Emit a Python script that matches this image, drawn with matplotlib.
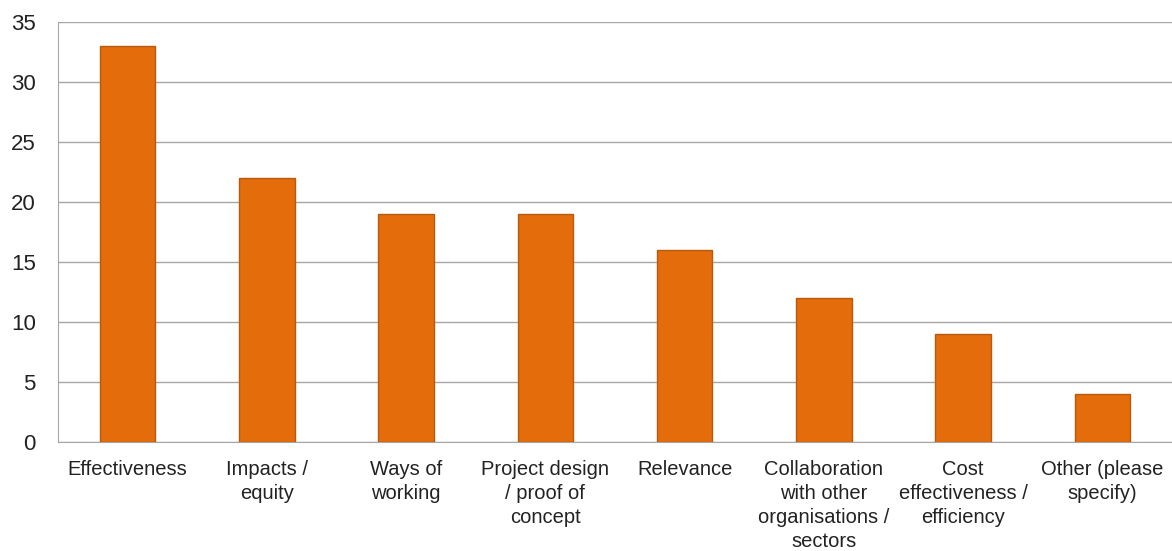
import numpy as np
import matplotlib.pyplot as plt

plt.rcParams['font.family'] = ['Liberation Sans', 'DejaVu Sans']

categories = ["Effectiveness", "Impacts /\nequity", "Ways of\nworking",
              "Project design\n/ proof of\nconcept", "Relevance",
              "Collaboration\nwith other\norganisations /\nsectors",
              "Cost\neffectiveness /\nefficiency", "Other (please\nspecify)"]
values = [33, 22, 19, 19, 16, 12, 9, 4]

fig = plt.figure(figsize=(11.72, 5.51), dpi=100)
ax = fig.add_axes([0.0495, 0.198, 0.9505, 0.762])

x = np.arange(len(categories))
ax.bar(x, values, width=0.4, color='#E46C0A', edgecolor='#B65A10', linewidth=1, zorder=3)

ax.set_xlim(-0.5, len(categories) - 0.5)
ax.set_ylim(0, 35)
ax.set_yticks(range(0, 36, 5))
ax.yaxis.grid(True, color='#A6A6A6', linewidth=1, zorder=0)
ax.set_axisbelow(True)

ax.set_xticks(x)
ax.set_xticklabels(categories, fontsize=14.5, linespacing=1.34, va='top', color='#222222')
ax.tick_params(axis='y', labelsize=16, length=0, pad=16, labelcolor='#222222')
ax.tick_params(axis='x', length=0, pad=13)

for s in ['top', 'right']:
    ax.spines[s].set_visible(False)
ax.spines['left'].set_color('#A6A6A6')
ax.spines['bottom'].set_color('#A6A6A6')

fig.savefig('out.png', dpi=100)
